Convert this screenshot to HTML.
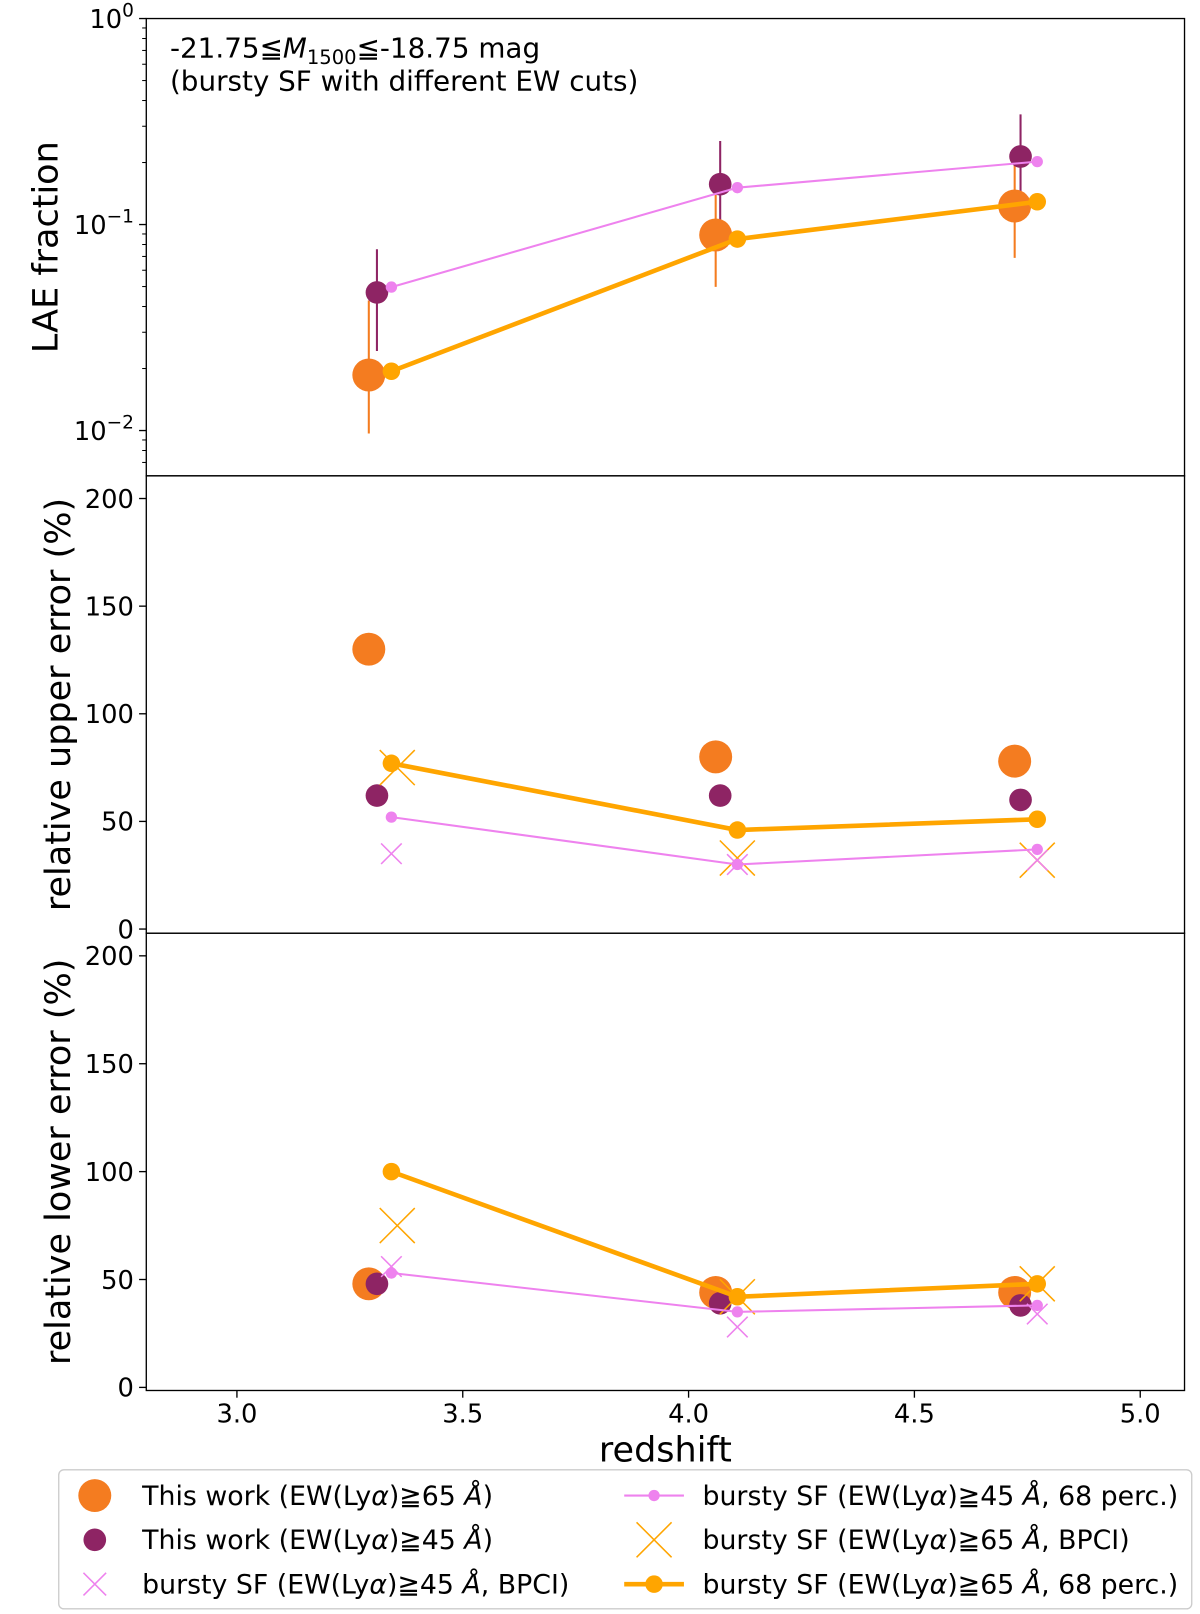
<!DOCTYPE html>
<html><head><meta charset="utf-8"><style>
body{margin:0;background:#fff;}
svg{display:block;font-family:"DejaVu Sans","Liberation Sans",sans-serif;}
</style></head><body>
<svg id="c" width="1200" height="1614" viewBox="0 0 1165 1567"></svg>
<script>
const redshiftWork65=[3.292,4.06,4.722];
const redshiftWork45=[3.31,4.07,4.735];
const redshiftModel=[3.342,4.108,4.772];
const redshiftBpci65=[3.355,4.108,4.772];
const fracWork65=[0.0186,0.089,0.123];
const fracWork45=[0.0468,0.157,0.214];
const fracModel45=[0.0497,0.151,0.202];
const fracModel65=[0.0194,0.085,0.129];
const upWork65=[130,80,78];
const upWork45=[62,62,60];
const upModel65=[77,46,51];
const upBpci65=[75,33,32];
const upBpci45=[35,30,32];
const upModel45=[52,30,37];
const loWork65=[48,44,44];
const loWork45=[48,39,38];
const loModel65=[100,42,48];
const loBpci65=[75,42,48];
const loBpci45=[56,28,34];
const loModel45=[53,35,38];
const xTicks=[3.0,3.5,4.0,4.5,5.0];
const xTickLabels=["3.0","3.5","4.0","4.5","5.0"];
const linTicks=[0,50,100,150,200];

const NS="http://www.w3.org/2000/svg";
const svg=document.getElementById('c');
const L=142,R=1150;
function X(z){return 230+(z-3)*438.5;}
function Ylog(v){return 18-(Math.log10(v))*200;}
function Ymid(v){return 902-v*2.09;}
function Ybot(v){return 1347-v*2.095;}
function el(t,a,p){const e=document.createElementNS(NS,t);for(const k in a)e.setAttribute(k,a[k]);(p||svg).appendChild(e);return e;}
const OR='#f47c20',PU='#8e2464',PK='#ee82ee',YO='#ffa500';

function circle(x,y,r,c,name){const e=el('circle',{cx:x,cy:y,r:r,fill:c});return e;}
function cross(x,y,s,c,w,name){const g=el('g',{stroke:c,'stroke-width':w});
 el('line',{x1:x-s,y1:y-s,x2:x+s,y2:y+s},g);el('line',{x1:x-s,y1:y+s,x2:x+s,y2:y-s},g);}
function line(xs,ys,c,w,name){const p=el('polyline',{points:xs.map((x,i)=>x+','+ys[i]).join(' '),fill:'none',stroke:c,'stroke-width':w});}
function errbar(x,y1,y2,c,name){const e=el('line',{x1:x,y1:y1,x2:x,y2:y2,stroke:c,'stroke-width':2});}

[[18,462],[462,906],[906,1350]].forEach((p,i)=>{const r=el('rect',{x:L,y:p[0],width:R-L,height:p[1]-p[0],fill:'none',stroke:'#000','stroke-width':1.3});});

[0,-1,-2].forEach((d,i)=>{const y=Ylog(Math.pow(10,d));el('line',{x1:L-7,y1:y,x2:L,y2:y,stroke:'#000','stroke-width':1.3});
 const t=el('text',{x:L-12,y:y+9,'text-anchor':'end','font-size':25});
 t.innerHTML='10<tspan dy="-11" font-size="18">'+(d==0?'0':'−'+(-d))+'</tspan>';});
for(let d=-3;d<0;d++)for(let m=2;m<10;m++){const y=Ylog(m*Math.pow(10,d));if(y>18&&y<462)el('line',{x1:L-4,y1:y,x2:L,y2:y,stroke:'#000','stroke-width':1});}
linTicks.forEach(v=>{[Ymid,Ybot].forEach((f,j)=>{const y=f(v);el('line',{x1:L-7,y1:y,x2:L,y2:y,stroke:'#000','stroke-width':1.3});
 const t=el('text',{x:L-12,y:y+9,'text-anchor':'end','font-size':25});t.textContent=v;});});
xTicks.forEach((v,i)=>{const x=X(v);el('line',{x1:x,y1:1350,x2:x,y2:1357,stroke:'#000','stroke-width':1.3});
 const t=el('text',{x:x,y:1381,'text-anchor':'middle','font-size':25});t.textContent=xTickLabels[i];});

function lab(x,y,txt,rot,name,fs){const t=el('text',{x:x,y:y,'text-anchor':'middle','font-size':fs||34,transform:rot?'rotate(-90 '+x+' '+y+')':''});t.textContent=txt;}
lab(56,240,'LAE fraction',1,'y-axis-title-top');
lab(68,684,'relative upper error (%)',1,'y-axis-title-middle');
lab(68,1128,'relative lower error (%)',1,'y-axis-title-bottom');
lab(646,1419,'redshift',0,'x-axis-title');
let t=el('text',{x:165,y:56,'font-size':27});t.innerHTML='-21.75≦<tspan font-style="italic">M</tspan><tspan font-size="19" dy="6">1500</tspan><tspan dy="-6">≦-18.75 mag</tspan>';
t=el('text',{x:165,y:88,'font-size':27});t.textContent='(bursty SF with different EW cuts)';

redshiftWork65.forEach((z,i)=>{const v=fracWork65[i];errbar(X(z),Ylog(v*(1+upWork65[i]/100)),Ylog(v*(1-loWork65[i]/100)),OR,'errorbar-work65');});
redshiftWork45.forEach((z,i)=>{const v=fracWork45[i];errbar(X(z),Ylog(v*(1+upWork45[i]/100)),Ylog(v*(1-loWork45[i]/100)),PU,'errorbar-work45');});
redshiftWork65.forEach((z,i)=>circle(X(z),Ylog(fracWork65[i]),16,OR,'point-work65'));
redshiftWork45.forEach((z,i)=>circle(X(z),Ylog(fracWork45[i]),11,PU,'point-work45'));
line(redshiftModel.map(X),fracModel45.map(Ylog),PK,2,'line-model45');
redshiftModel.forEach((z,i)=>circle(X(z),Ylog(fracModel45[i]),5.5,PK,'point-model45'));
line(redshiftModel.map(X),fracModel65.map(Ylog),YO,4.5,'line-model65');
redshiftModel.forEach((z,i)=>circle(X(z),Ylog(fracModel65[i]),8.5,YO,'point-model65'));

function panel(Y,w65,w45,m65,b65,b45,m45,nm){
 redshiftWork65.forEach((z,i)=>circle(X(z),Y(w65[i]),16,OR,nm+'-work65'));
 redshiftWork45.forEach((z,i)=>circle(X(z),Y(w45[i]),11,PU,nm+'-work45'));
 redshiftBpci65.forEach((z,i)=>cross(X(z),Y(b65[i]),17,YO,1.5,nm+'-bpci65'));
 redshiftModel.forEach((z,i)=>cross(X(z),Y(b45[i]),10,PK,1.5,nm+'-bpci45'));
 line(redshiftModel.map(X),m45.map(Y),PK,2,nm+'-line-model45');
 redshiftModel.forEach((z,i)=>circle(X(z),Y(m45[i]),5.5,PK,nm+'-model45'));
 line(redshiftModel.map(X),m65.map(Y),YO,4.5,nm+'-line-model65');
 redshiftModel.forEach((z,i)=>circle(X(z),Y(m65[i]),8.5,YO,nm+'-model65'));
}
panel(Ymid,upWork65,upWork45,upModel65,upBpci65,upBpci45,upModel45,'upper');
panel(Ybot,loWork65,loWork45,loModel65,loBpci65,loBpci45,loModel45,'lower');

const lg=el('g',{});
el('rect',{x:57,y:1427,width:1100,height:135,rx:5,fill:'#fff',stroke:'#ccc','stroke-width':1.3},lg);
function ltext(x,y,s){const t=el('text',{x:x,y:y,'font-size':26},lg);t.innerHTML=s;}
const a='<tspan font-style="italic">α</tspan>',A='<tspan font-style="italic">Å</tspan>';
circle(92,1452,16,OR,'legend-work65');ltext(138,1461,'This work (EW(Ly'+a+')≧65 '+A+')');
circle(92,1495,11,PU,'legend-work45');ltext(138,1504,'This work (EW(Ly'+a+')≧45 '+A+')');
cross(92,1538,11,PK,1.5,'legend-bpci45');ltext(138,1547,'bursty SF (EW(Ly'+a+')≧45 '+A+', BPCI)');
line([606,664],[1452,1452],PK,2,'legend-line-model45');circle(635,1452,5.5,PK,'legend-model45');ltext(682,1461,'bursty SF (EW(Ly'+a+')≧45 '+A+', 68 perc.)');
cross(635,1495,17,YO,1.5,'legend-bpci65');ltext(682,1504,'bursty SF (EW(Ly'+a+')≧65 '+A+', BPCI)');
line([606,664],[1538,1538],YO,4.5,'legend-line-model65');circle(635,1538,8.5,YO,'legend-model65');ltext(682,1547,'bursty SF (EW(Ly'+a+')≧65 '+A+', 68 perc.)');
</script>
</body></html>
